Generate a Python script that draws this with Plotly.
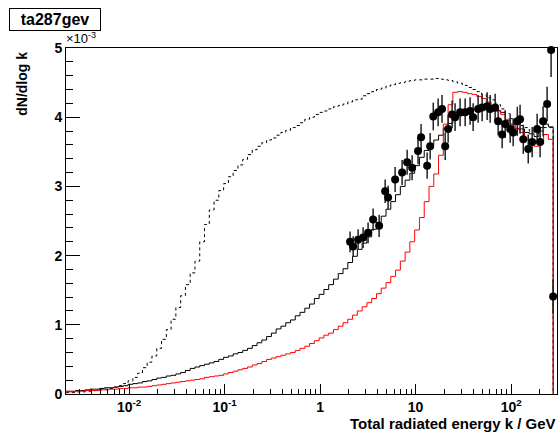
import numpy as np
import plotly.graph_objects as go

# log10(k/GeV) bin edges of the histograms
log_k_min, log_k_max, n_bins = -2.66, 2.44, 102

# dN/dlog k in units of 1e-3, one value per bin
dotted_vals = [0.02,0.02,0.03,0.03,0.04,0.04,0.05,0.06,0.07,0.08,
               0.10,0.12,0.15,0.19,0.24,0.30,0.38,0.46,0.55,0.66,
               0.79,0.93,1.08,1.25,1.42,1.58,1.75,1.92,2.20,2.45,
               2.66,2.80,2.94,3.04,3.14,3.23,3.31,3.39,3.46,3.53,
               3.58,3.63,3.67,3.70,3.74,3.78,3.81,3.85,3.88,3.92,
               3.97,4.00,4.04,4.07,4.09,4.12,4.15,4.17,4.19,4.22,
               4.25,4.26,4.31,4.34,4.37,4.40,4.42,4.45,4.47,4.49,
               4.50,4.52,4.53,4.54,4.54,4.55,4.55,4.56,4.55,4.54,
               4.53,4.51,4.49,4.46,4.43,4.40,4.37,4.33,4.28,4.25,
               4.18,4.12,4.05,3.98,3.92,3.88,3.85,3.80,3.77,3.80,
               3.85,3.85]

black_vals = [0.04,0.04,0.05,0.05,0.06,0.07,0.07,0.08,0.09,0.09,
              0.10,0.11,0.12,0.14,0.15,0.16,0.18,0.19,0.21,0.23,
              0.24,0.26,0.27,0.29,0.31,0.34,0.37,0.39,0.41,0.43,
              0.45,0.47,0.50,0.53,0.55,0.58,0.60,0.63,0.66,0.70,
              0.74,0.78,0.83,0.88,0.94,0.98,1.03,1.07,1.13,1.18,
              1.24,1.30,1.38,1.44,1.51,1.58,1.66,1.74,1.81,1.90,
              1.99,2.09,2.18,2.27,2.38,2.48,2.57,2.67,2.78,2.88,
              3.00,3.09,3.19,3.30,3.42,3.52,3.60,3.67,3.74,3.84,
              3.91,3.97,4.02,4.06,4.10,4.12,4.14,4.13,4.10,4.09,
              4.09,4.07,3.95,3.90,3.83,3.83,3.78,3.76,3.72,3.85,
              3.90,3.86]

red_vals = [0.03,0.03,0.04,0.04,0.05,0.05,0.05,0.06,0.06,0.07,
            0.07,0.08,0.08,0.09,0.09,0.10,0.10,0.11,0.12,0.13,
            0.14,0.15,0.16,0.17,0.18,0.19,0.20,0.21,0.22,0.24,
            0.25,0.26,0.27,0.29,0.31,0.33,0.35,0.37,0.39,0.42,
            0.44,0.47,0.50,0.52,0.54,0.56,0.58,0.60,0.63,0.66,
            0.69,0.73,0.77,0.81,0.85,0.88,0.93,0.98,1.03,1.08,
            1.14,1.20,1.26,1.32,1.38,1.45,1.53,1.61,1.70,1.79,
            1.92,2.05,2.20,2.37,2.55,2.78,3.00,3.18,3.45,3.90,
            4.18,4.36,4.37,4.36,4.34,4.33,4.30,4.27,4.22,4.16,
            4.10,4.04,3.97,3.86,3.84,3.78,3.68,3.62,3.58,3.62,
            3.75,3.68]

# measured points (k in GeV, dN/dlog k in 1e-3)
data_k = [2.06,2.22,2.50,2.82,3.18,3.59,4.15,4.80,5.15,6.10,
          7.22,8.15,9.19,10.6,11.4,13.2,14.2,15.3,17.2,18.9,
          20.4,21.9,24.1,25.9,29.2,33.0,37.2,40.0,45.1,49.7,
          56.1,60.3,68.0,73.1,80.5,86.5,97.7,105,116,124,
          134,151,166,187,201,216,238,262,275]
data_y = [2.20,2.13,2.23,2.26,2.33,2.52,2.43,2.93,2.84,3.10,
          3.20,3.35,3.27,3.51,3.71,3.30,3.58,4.01,4.07,4.12,
          3.58,3.83,4.04,4.00,4.07,4.07,4.09,4.00,4.12,4.14,
          4.16,4.12,4.14,3.94,3.75,3.90,3.83,3.78,3.94,3.97,
          3.68,3.54,3.64,3.83,3.64,3.94,4.19,4.97,1.41]
data_err_lo = [0.15,0.15,0.15,0.15,0.15,0.16,0.16,0.17,0.17,0.18,
               0.18,0.18,0.18,0.19,0.19,0.19,0.19,0.20,0.20,0.20,
               0.20,0.20,0.20,0.20,0.20,0.20,0.20,0.20,0.20,0.20,
               0.20,0.20,0.20,0.20,0.20,0.20,0.20,0.20,0.21,0.21,
               0.21,0.21,0.22,0.22,0.22,0.22,0.25,0.39,0.25]
data_err_hi = [0.15,0.15,0.15,0.15,0.15,0.16,0.16,0.17,0.17,0.18,
               0.18,0.18,0.18,0.19,0.19,0.19,0.19,0.20,0.20,0.20,
               0.20,0.20,0.20,0.20,0.20,0.20,0.20,0.20,0.20,0.20,
               0.20,0.20,0.20,0.20,0.20,0.20,0.20,0.20,0.21,0.21,
               0.21,0.21,0.22,0.22,0.22,0.22,0.25,0.03,0.25]

x_tickvals = [0.01, 0.1, 1, 10, 100]
x_ticktext = ["10<sup>-2</sup>", "10<sup>-1</sup>", "1", "10", "10<sup>2</sup>"]
y_tickvals = [0, 1, 2, 3, 4, 5]

edges = 10 ** np.linspace(log_k_min, log_k_max, n_bins + 1)


def hist_xy(vals):
    xs = list(edges) + [edges[-1]]
    ys = list(vals) + [vals[-1], 0]
    return xs, ys


FONT = "Liberation Sans, Arial, Helvetica, sans-serif"

fig = go.Figure()
for vals, color, dash in [(dotted_vals, "black", "3px,3px"),
                          (black_vals, "black", "solid"),
                          (red_vals, "#ff0000", "solid")]:
    xs, ys = hist_xy(vals)
    fig.add_trace(go.Scatter(x=xs, y=ys, mode="lines", line_shape="hv",
                             line=dict(color=color, width=1, dash=dash),
                             showlegend=False, hoverinfo="skip"))

fig.add_trace(go.Scatter(
    x=data_k, y=data_y, mode="markers",
    marker=dict(symbol="circle", size=8, color="black"),
    error_y=dict(type="data", symmetric=False, array=data_err_hi,
                 arrayminus=data_err_lo, width=0, thickness=1.5, color="#222"),
    cliponaxis=False, showlegend=False))

fig.update_layout(
    width=559, height=434,
    margin=dict(l=66, r=2, t=48, b=40),
    paper_bgcolor="white", plot_bgcolor="white",
    font=dict(family=FONT, color="black"),
    xaxis=dict(type="log", range=[-2.66, 2.48], showgrid=False, zeroline=False,
               showline=True, linecolor="black", linewidth=1, mirror=True,
               ticks="inside", ticklen=10, tickwidth=1, tickcolor="black",
               tickvals=x_tickvals, ticktext=x_ticktext,
               tickfont=dict(size=14, weight="bold", family=FONT),
               minor=dict(ticks="inside", ticklen=5, tickwidth=1,
                          tickcolor="black", dtick="D1", showgrid=False)),
    yaxis=dict(range=[0, 5], showgrid=False, zeroline=False,
               showline=True, linecolor="black", linewidth=1, mirror=True,
               ticks="inside", ticklen=14, tickwidth=1, tickcolor="black",
               tickvals=y_tickvals,
               tickfont=dict(size=14, weight="bold", family=FONT),
               minor=dict(ticks="inside", ticklen=7, tickwidth=1,
                          tickcolor="black", dtick=0.2, showgrid=False)),
)

fig.add_annotation(xref="paper", yref="paper", x=1.0, y=(394 - 424) / 346,
                   xanchor="right", yanchor="middle", borderpad=0,
                   text="Total radiated energy k / GeV", showarrow=False,
                   font=dict(size=15, weight="bold", family=FONT))
fig.add_annotation(xref="paper", yref="paper", x=(22 - 66) / 491, y=0.995,
                   xanchor="center", yanchor="top", textangle=-90,
                   text="dN/dlog k", showarrow=False,
                   font=dict(size=14, weight="bold", family=FONT))
fig.add_annotation(xref="paper", yref="paper", x=-0.004, y=1.0,
                   xanchor="left", yanchor="bottom",
                   text="×10<sup>-3</sup>", showarrow=False,
                   font=dict(size=13, family=FONT))
fig.add_annotation(xref="paper", yref="paper", x=(9 - 66) / 491, y=(394 - 8) / 346,
                   xanchor="left", yanchor="top", text="ta287gev",
                   showarrow=False, width=88, height=19,
                   bordercolor="black", borderwidth=1, bgcolor="white",
                   font=dict(size=16, weight="bold", family=FONT))

fig.write_html("out.html")
